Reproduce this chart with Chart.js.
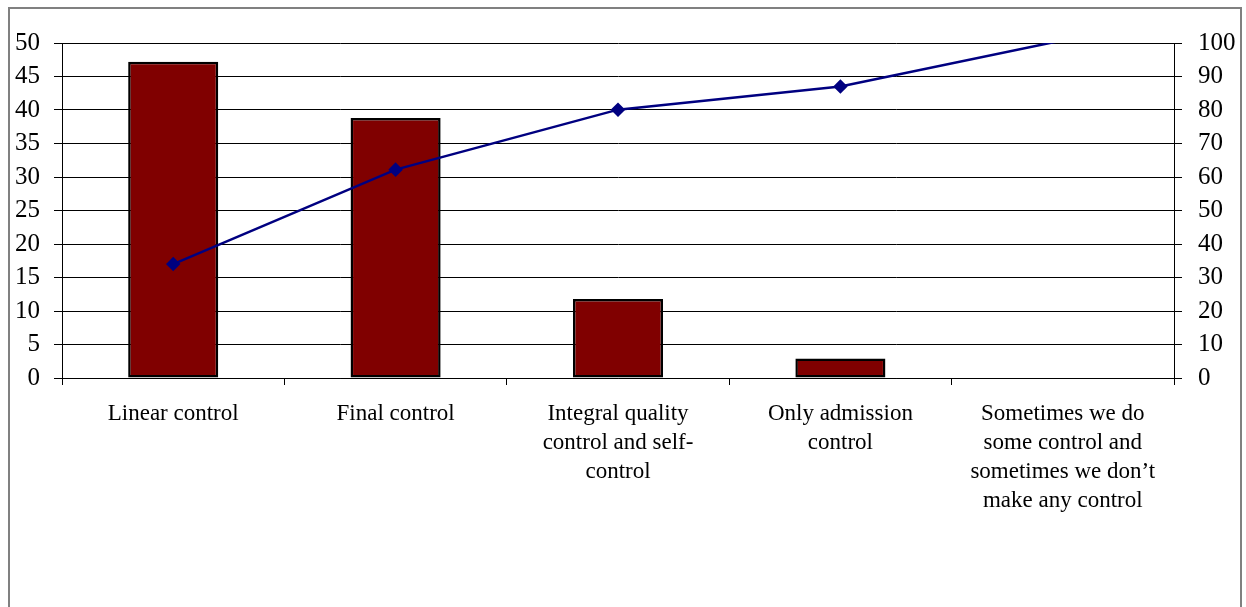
<!DOCTYPE html>
<html>
<head>
<meta charset="utf-8">
<script src="https://cdn.jsdelivr.net/npm/chart.js@4"></script>
<style>
  html, body { margin: 0; padding: 0; background: #fff; }
  #wrap { width: 1246px; height: 607px; position: relative; }
</style>
</head>
<body>
<div id="wrap"><canvas id="c" width="1246" height="607"></canvas></div>
<script>
// Categories (multi-line labels)
const categories = [
  ["Linear control"],
  ["Final control"],
  ["Integral quality", "control and self-", "control"],
  ["Only admission", "control"],
  ["Sometimes we do", "some control and", "sometimes we don\u2019t", "make any control"]
];
// Bar values (left axis)
const barValues = [47.2, 38.8, 11.8, 2.9, 0];
// Line values (right axis, %)
const lineValues = [34.0, 62.2, 80.1, 87.0, 100.8];
// Axis tick settings
const leftMax = 50, leftStep = 5;
const rightMax = 100, rightStep = 10;

const SERIF = "'Liberation Serif', 'Times New Roman', serif";
const CAT_FONT = { family: SERIF, size: 23, lineHeight: 1.27 };
const TICK_FONT = { family: SERIF, size: 25 };

// Outer frame around the chart
const framePlugin = {
  id: 'frame',
  afterDraw(chart) {
    const ctx = chart.ctx;
    ctx.save();
    ctx.strokeStyle = '#808080';
    ctx.lineWidth = 2;
    ctx.beginPath();
    ctx.moveTo(9, 620);
    ctx.lineTo(9, 8);
    ctx.lineTo(1241, 8);
    ctx.lineTo(1241, 620);
    ctx.stroke();
    ctx.restore();
  }
};

new Chart(document.getElementById('c'), {
  data: {
    labels: categories,
    datasets: [
      {
        type: 'line',
        data: lineValues,
        yAxisID: 'y2',
        borderColor: '#000080',
        backgroundColor: '#000080',
        borderWidth: 2.5,
        pointStyle: 'rectRot',
        pointRadius: [5.5, 5.5, 5.5, 5.5, 0],
        pointHoverRadius: [5.5, 5.5, 5.5, 5.5, 0],
        tension: 0,
        clip: 0,
        order: 0
      },
      {
        type: 'bar',
        data: barValues,
        yAxisID: 'y',
        backgroundColor: '#800000',
        borderColor: '#000000',
        borderWidth: 2.5,
        borderSkipped: false,
        barPercentage: 0.405,
        categoryPercentage: 1,
        order: 1
      }
    ]
  },
  options: {
    responsive: false,
    animation: false,
    events: [],
    layout: { padding: { top: 43, right: 0, bottom: 0, left: 0 } },
    plugins: { legend: { display: false }, tooltip: { enabled: false } },
    scales: {
      x: {
        offset: true,
        grid: {
          offset: true,
          drawOnChartArea: false,
          drawTicks: true,
          tickLength: 7,
          color: '#000'
        },
        border: { display: true, color: '#000', width: 1 },
        ticks: {
          color: '#000',
          font: CAT_FONT,
          padding: 14,
          maxRotation: 0,
          autoSkip: false
        },
        afterFit(scale) { scale.height = 607 - 378; }
      },
      y: {
        position: 'left',
        min: 0, max: leftMax,
        grid: { color: '#000', lineWidth: 1, tickLength: 8 },
        border: { display: true, color: '#000', width: 1 },
        ticks: { stepSize: leftStep, color: '#000', font: TICK_FONT, padding: 14 },
        afterFit(scale) { scale.width = 62; }
      },
      y2: {
        position: 'right',
        min: 0, max: rightMax,
        grid: { drawOnChartArea: false, color: '#000', tickLength: 8 },
        border: { display: true, color: '#000', width: 1 },
        ticks: { stepSize: rightStep, color: '#000', font: TICK_FONT, padding: 16 },
        afterFit(scale) { scale.width = 1246 - 1174; }
      }
    }
  },
  plugins: [framePlugin]
});
</script>
</body>
</html>
